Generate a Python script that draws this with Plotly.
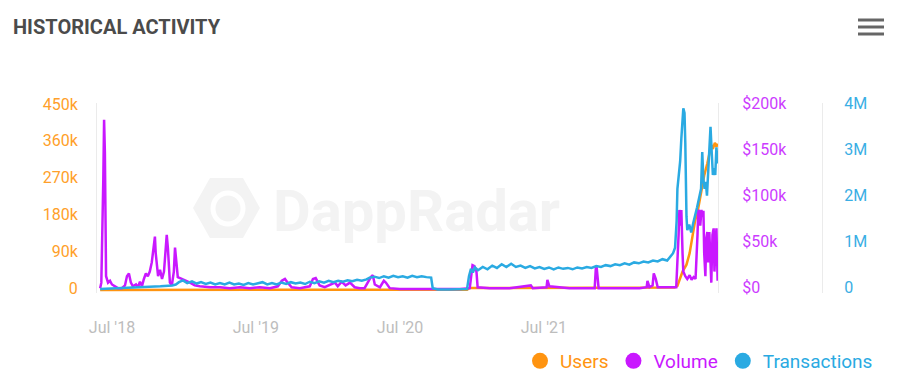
import plotly.graph_objects as go

# ---------------- data ----------------
tx_dates = [
    "2018-06-01", "2018-07-01", "2018-08-01", "2018-09-01", "2018-10-01", "2018-11-01", "2018-12-01",
    "2018-12-10", "2018-12-18", "2018-12-28", "2019-01-08", "2019-01-20", "2019-02-01", "2019-02-12",
    "2019-02-24", "2019-03-08", "2019-03-20", "2019-04-01", "2019-04-13", "2019-04-25", "2019-05-07",
    "2019-05-19", "2019-05-31", "2019-06-12", "2019-06-24", "2019-07-06", "2019-07-18", "2019-07-30",
    "2019-08-11", "2019-08-23", "2019-09-04", "2019-09-16", "2019-09-28", "2019-10-10", "2019-10-22",
    "2019-11-03", "2019-11-15", "2019-11-27", "2019-12-09", "2019-12-21", "2020-01-02", "2020-01-14",
    "2020-01-26", "2020-02-07", "2020-02-19", "2020-03-02", "2020-03-14", "2020-03-26", "2020-04-07",
    "2020-04-15", "2020-04-27", "2020-05-09", "2020-05-21", "2020-06-02", "2020-06-14", "2020-06-26",
    "2020-07-08", "2020-07-20", "2020-08-01", "2020-08-13", "2020-08-25", "2020-09-06", "2020-09-18",
    "2020-09-22", "2020-10-05", "2020-11-01", "2020-12-01", "2020-12-18", "2020-12-23", "2020-12-28",
    "2021-01-02", "2021-01-07", "2021-01-15", "2021-01-27", "2021-02-08", "2021-02-20", "2021-03-04",
    "2021-03-16", "2021-03-28", "2021-04-09", "2021-04-21", "2021-05-03", "2021-05-15", "2021-05-27",
    "2021-06-08", "2021-06-20", "2021-07-02", "2021-07-14", "2021-07-26", "2021-08-07", "2021-08-19",
    "2021-08-31", "2021-09-12", "2021-09-24", "2021-10-06", "2021-10-18", "2021-10-30", "2021-11-11",
    "2021-11-23", "2021-12-05", "2021-12-17", "2021-12-29", "2022-01-10", "2022-01-22", "2022-02-03",
    "2022-02-15", "2022-02-27", "2022-03-11", "2022-03-23", "2022-04-04", "2022-04-16", "2022-04-28",
    "2022-05-10", "2022-05-18", "2022-05-25", "2022-05-30", "2022-06-03", "2022-06-05", "2022-06-08",
    "2022-06-12", "2022-06-15", "2022-06-18", "2022-06-20", "2022-06-23", "2022-06-25", "2022-06-28",
    "2022-06-30", "2022-07-05", "2022-07-10", "2022-07-15", "2022-07-20", "2022-07-25", "2022-07-30",
    "2022-08-04", "2022-08-07", "2022-08-10", "2022-08-13", "2022-08-16", "2022-08-19", "2022-08-22",
    "2022-08-25", "2022-08-28", "2022-08-31", "2022-09-03", "2022-09-06", "2022-09-09", "2022-09-12",
    "2022-09-15",
]
transactions_m = [
    0.02, 0.03, 0.04, 0.05, 0.06, 0.08, 0.10,
    0.12, 0.17, 0.21, 0.15, 0.19, 0.14, 0.17,
    0.13, 0.16, 0.12, 0.15, 0.12, 0.16, 0.12,
    0.14, 0.11, 0.15, 0.12, 0.14, 0.17, 0.12,
    0.15, 0.12, 0.16, 0.13, 0.17, 0.14, 0.16,
    0.13, 0.18, 0.15, 0.19, 0.16, 0.20, 0.17,
    0.20, 0.18, 0.21, 0.19, 0.22, 0.20, 0.23,
    0.27, 0.29, 0.26, 0.30, 0.27, 0.31, 0.28,
    0.30, 0.27, 0.31, 0.28, 0.30, 0.28, 0.27,
    0.04, 0.01, 0.01, 0.01, 0.02, 0.30, 0.46,
    0.38, 0.49, 0.43, 0.50, 0.45, 0.53, 0.48,
    0.56, 0.50, 0.57, 0.50, 0.53, 0.48, 0.52,
    0.47, 0.50, 0.46, 0.49, 0.45, 0.49, 0.46,
    0.48, 0.45, 0.49, 0.47, 0.50, 0.48, 0.52,
    0.50, 0.54, 0.52, 0.56, 0.54, 0.58, 0.55,
    0.60, 0.58, 0.62, 0.60, 0.64, 0.62, 0.67,
    0.64, 0.72, 0.80, 0.92, 1.50, 2.20, 2.50,
    2.80, 3.30, 3.70, 3.95, 3.85, 3.20, 1.60,
    1.30, 1.42, 1.25, 1.45, 1.60, 1.80, 2.00,
    2.20, 3.00, 2.40, 2.20, 2.35, 2.05, 2.50,
    3.00, 3.55, 3.00, 2.50, 2.65, 2.50, 3.10,
    2.75,
]

users_dates = [
    "2018-06-01", "2019-06-01", "2020-06-01", "2020-12-18", "2020-12-25", "2022-05-29",
    "2022-06-05", "2022-06-10", "2022-06-18", "2022-06-28", "2022-07-06", "2022-07-13",
    "2022-07-20", "2022-07-26", "2022-07-31", "2022-08-07", "2022-08-12", "2022-08-20",
    "2022-08-25", "2022-08-30", "2022-09-03", "2022-09-08", "2022-09-12", "2022-09-15",
]
users_k = [
    0.3, 0.4, 0.4, 0.5, 5, 6,
    10, 25, 45, 62, 90, 130,
    170, 190, 215, 253, 280, 310,
    335, 355, 345, 360, 350, 358,
]

volume_dates = [
    "2018-06-01", "2018-06-04", "2018-06-09", "2018-06-11", "2018-06-13", "2018-06-16", "2018-06-21",
    "2018-06-26", "2018-07-01", "2018-07-09", "2018-07-16", "2018-07-26", "2018-08-03", "2018-08-08",
    "2018-08-13", "2018-08-18", "2018-08-23", "2018-08-31", "2018-09-05", "2018-09-10", "2018-09-15",
    "2018-09-20", "2018-09-25", "2018-09-30", "2018-10-05", "2018-10-10", "2018-10-15", "2018-10-18",
    "2018-10-20", "2018-10-26", "2018-10-31", "2018-11-05", "2018-11-10", "2018-11-15", "2018-11-17",
    "2018-11-20", "2018-11-25", "2018-11-30", "2018-12-05", "2018-12-08", "2018-12-10", "2018-12-15",
    "2018-12-25", "2019-01-05", "2019-01-15", "2019-01-27", "2019-02-09", "2019-03-07", "2019-04-01",
    "2019-04-26", "2019-05-22", "2019-06-16", "2019-07-11", "2019-08-06", "2019-08-26", "2019-09-05",
    "2019-09-13", "2019-09-20", "2019-09-30", "2019-10-21", "2019-11-15", "2019-11-23", "2019-11-30",
    "2019-12-10", "2019-12-23", "2020-01-18", "2020-01-25", "2020-02-04", "2020-02-14", "2020-02-25",
    "2020-03-08", "2020-03-21", "2020-04-02", "2020-04-18", "2020-04-23", "2020-04-28", "2020-05-11",
    "2020-05-21", "2020-05-26", "2020-06-05", "2020-06-30", "2020-08-20", "2020-10-10", "2020-11-30",
    "2020-12-25", "2020-12-30", "2021-01-01", "2021-01-06", "2021-01-11", "2021-01-14", "2021-02-14",
    "2021-04-05", "2021-05-29", "2021-06-03", "2021-07-08", "2021-07-10", "2021-07-15", "2021-09-04",
    "2021-11-07", "2021-11-10", "2021-11-12", "2021-11-17", "2022-01-09", "2022-03-01", "2022-03-19",
    "2022-03-21", "2022-03-26", "2022-04-03", "2022-04-06", "2022-04-11", "2022-04-16", "2022-05-16",
    "2022-06-02", "2022-06-08", "2022-06-10", "2022-06-13", "2022-06-15", "2022-06-18", "2022-06-20",
    "2022-06-25", "2022-06-30", "2022-07-06", "2022-07-11", "2022-07-16", "2022-07-21", "2022-07-26",
    "2022-07-28", "2022-07-31", "2022-08-02", "2022-08-05", "2022-08-07", "2022-08-10", "2022-08-12",
    "2022-08-15", "2022-08-17", "2022-08-20", "2022-08-22", "2022-08-25", "2022-08-28", "2022-08-30",
    "2022-09-02", "2022-09-05", "2022-09-07", "2022-09-10", "2022-09-12", "2022-09-15",
]
volume_k = [
    2, 8, 120, 185, 150, 15, 8,
    10, 6, 4, 2, 2, 5, 15,
    18, 8, 4, 6, 3, 9, 4,
    12, 18, 15, 20, 30, 45, 58,
    40, 15, 22, 12, 20, 50, 60,
    45, 8, 5, 20, 46, 35, 14,
    12, 10, 8, 5, 4, 3, 3,
    2, 3, 2, 3, 2, 4, 10,
    12, 8, 3, 2, 4, 12, 13,
    5, 3, 8, 4, 9, 5, 8,
    3, 2, 2, 14, 16, 6, 3,
    10, 8, 2, 1, 1, 1, 1,
    2, 24, 27, 26, 20, 3, 2,
    2, 5, 2, 3, 11, 4, 2,
    2, 24, 25, 2, 2, 2, 3,
    10, 3, 5, 18, 12, 3, 3,
    3, 60, 87, 70, 87, 40, 20,
    15, 12, 16, 11, 14, 12, 60,
    87, 85, 70, 87, 80, 86, 40,
    15, 55, 63, 30, 63, 15, 8,
    60, 67, 20, 50, 67, 10,
]

x_tick_dates = ["2018-07-01", "2019-07-01", "2020-07-01", "2021-07-01"]
x_tick_labels = ["Jul '18", "Jul '19", "Jul '20", "Jul '21"]
users_ticks = [0, 90, 180, 270, 360, 450]
users_tick_labels = ["0", "90k", "180k", "270k", "360k", "450k"]
volume_ticks = [0, 50, 100, 150, 200]
volume_tick_labels = ["$0", "$50k", "$100k", "$150k", "$200k"]
tx_ticks = [0, 1, 2, 3, 4]
tx_tick_labels = ["0", "1M", "2M", "3M", "4M"]

# ---------------- styles ----------------
C_USERS = "#ff9410"
C_VOLUME = "#c918ff"
C_TX = "#2aaae2"
FONT = "Roboto"

fig = go.Figure()

fig.add_trace(go.Scatter(x=tx_dates, y=transactions_m, mode="lines", yaxis="y3",
                         line=dict(color=C_TX, width=2.5), showlegend=False, hoverinfo="skip"))
fig.add_trace(go.Scatter(x=volume_dates, y=volume_k, mode="lines", yaxis="y2",
                         line=dict(color=C_VOLUME, width=2.5), showlegend=False, hoverinfo="skip"))
fig.add_trace(go.Scatter(x=users_dates, y=users_k, mode="lines", yaxis="y",
                         line=dict(color=C_USERS, width=2.5), showlegend=False, hoverinfo="skip"))

# legend entries (circle markers like the reference)
for name, col in [("Users", C_USERS), ("Volume", C_VOLUME), ("Transactions", C_TX)]:
    fig.add_trace(go.Scatter(x=[None], y=[None], mode="markers",
                             marker=dict(color=col, size=16, symbol="circle"),
                             name=f"<span style='color:{col}'>{name}</span>"))

# geometry (pixels of the 905x385 page)
L, R, T, B = 97, 865, 103, 293
W, H = R - L, B - T

def px(x):
    return (x - L) / W

def py(y):
    return (B - y) / H

u_per_px = 450 / 184.0
users_range = [-3 * u_per_px, 450 + 3 * u_per_px]
v_per_px = 200 / 184.0
volume_range = [-3 * v_per_px, 200 + 3 * v_per_px]
t_per_px = 4 / 184.0
tx_range = [-3 * t_per_px, 4 + 3 * t_per_px]

fig.update_layout(
    width=905, height=385,
    margin=dict(l=L, r=905 - R, t=T, b=385 - B, autoexpand=False),
    paper_bgcolor="white", plot_bgcolor="white",
    font=dict(family=FONT),
    title=dict(text="<b>HISTORICAL ACTIVITY</b>", x=13 / 905, xanchor="left",
               y=1 - 27 / 385, yanchor="middle", xref="container", yref="container",
               font=dict(family=FONT, size=20, color="#4b4b4b")),
    xaxis=dict(domain=[0, px(718)], type="date", range=["2018-05-24", "2022-09-16"],
               tickvals=x_tick_dates, ticktext=x_tick_labels, showgrid=False, zeroline=False,
               showline=False, ticks="", ticklabelstandoff=23, automargin=False,
               tickfont=dict(family=FONT, size=16, color="#bdbdbd")),
    yaxis=dict(range=users_range, tickvals=users_ticks, ticktext=users_tick_labels,
               showgrid=False, zeroline=False, showline=True, linecolor="#ebebeb", linewidth=1,
               ticks="", ticklabelstandoff=15, ticklabelshift=-2, automargin=False,
               tickfont=dict(family=FONT, size=16, color="#ff9f2a")),
    yaxis2=dict(range=volume_range, tickvals=volume_ticks, ticktext=volume_tick_labels,
                overlaying="y", side="right", anchor="x", automargin=False,
                showgrid=False, zeroline=False, showline=True, linecolor="#ebebeb", linewidth=1,
                ticks="", ticklabelstandoff=20, ticklabelshift=-3,
                tickfont=dict(family=FONT, size=16, color="#cc3cff")),
    yaxis3=dict(range=tx_range, tickvals=tx_ticks, ticktext=tx_tick_labels,
                overlaying="y", side="right", anchor="free", position=px(822), automargin=False,
                showgrid=False, zeroline=False, showline=True, linecolor="#ebebeb", linewidth=1,
                ticks="", ticklabelstandoff=18, ticklabelshift=-3,
                tickfont=dict(family=FONT, size=16, color="#3aaee4")),
    legend=dict(orientation="h", xref="paper", yref="paper",
                x=px(878), xanchor="right", y=py(361), yanchor="middle",
                font=dict(family=FONT, size=19), itemwidth=30, bgcolor="rgba(0,0,0,0)"),
    showlegend=True,
)

# watermark (logo hexagon + text), drawn faint behind the lines
hexagon = [(193, 208), (210, 178), (243, 178), (260, 208), (243, 238), (210, 238)]
path = "M " + " L ".join(f"{px(x):.4f},{py(y):.4f}" for x, y in hexagon) + " Z"
fig.add_shape(type="path", path=path, xref="paper", yref="paper",
              fillcolor="#f3f3f3", line=dict(width=0), layer="below")
fig.add_shape(type="circle", xref="paper", yref="paper",
              x0=px(213), x1=px(243), y0=py(224), y1=py(193),
              line=dict(color="white", width=5), layer="below")
fig.add_annotation(text="<b>DappRadar</b>", xref="paper", yref="paper",
                   x=px(416), y=py(211), showarrow=False,
                   font=dict(family=FONT, size=58, color="#f3f3f3"))

# hamburger menu icon
for yy in (20, 27, 34):
    fig.add_shape(type="line", xref="paper", yref="paper",
                  x0=px(858), x1=px(884), y0=py(yy), y1=py(yy),
                  line=dict(color="#666666", width=3))

# the page body has a default 8px margin; remove it so the figure sits at (0, 0)
fig.write_html("out.html", config={"displayModeBar": False},
               post_script="document.body.style.margin='0';")
